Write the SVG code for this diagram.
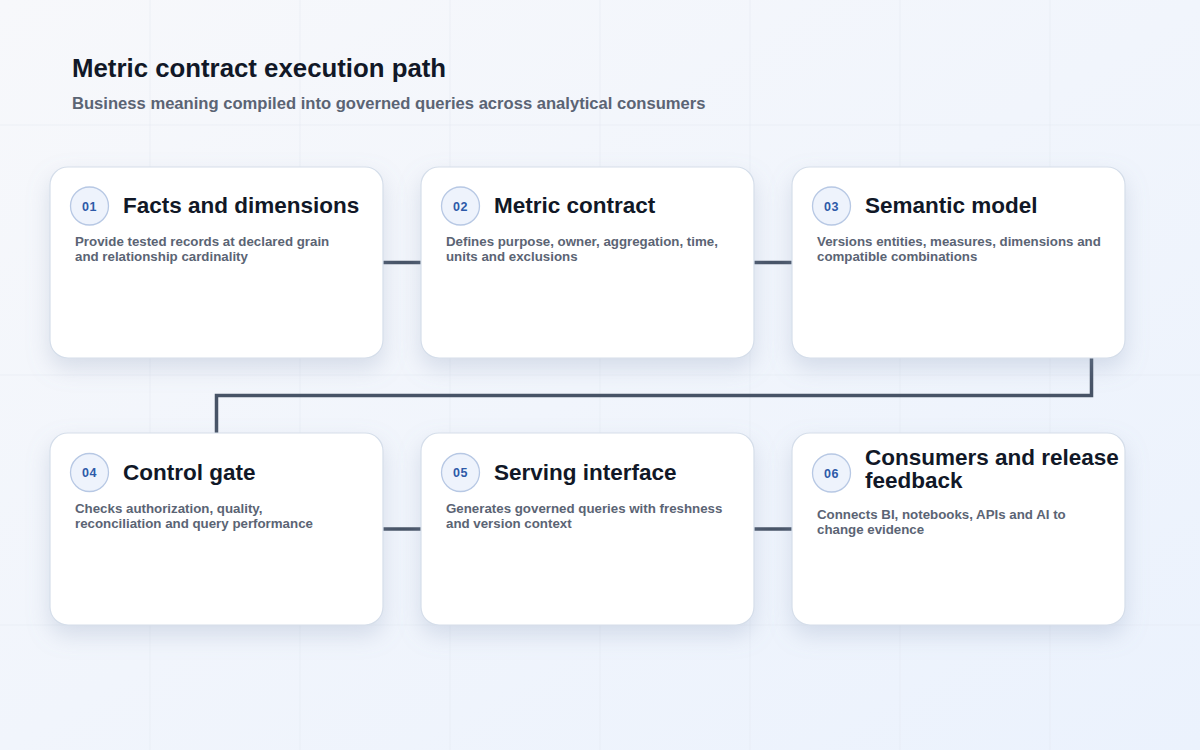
<svg xmlns="http://www.w3.org/2000/svg" width="1200" height="750" viewBox="0 0 1200 750">
<defs>
<linearGradient id="bg" x1="0" y1="0" x2="1" y2="1">
<stop offset="0" stop-color="#f7f8fb"/>
<stop offset="1" stop-color="#ebf2fd"/>
</linearGradient>
<filter id="sh" x="-20%" y="-20%" width="140%" height="150%">
<feDropShadow dx="0" dy="10" stdDeviation="11" flood-color="#8a9ab8" flood-opacity="0.28"/>
</filter>
<style>
.grid line{stroke:#e3e8f0;stroke-width:1;opacity:0.5}
.card{fill:#ffffff;stroke:#d5deea;stroke-width:1.2;filter:url(#sh)}
.badge{fill:#eef3fc;stroke:#b7c8e4;stroke-width:1.3}
.num{font-family:"Liberation Sans",Arial,sans-serif;font-size:12.5px;font-weight:700;fill:#2d5aa8;text-anchor:middle;letter-spacing:0.6px}
.title{font-family:"Liberation Sans",Arial,sans-serif;font-size:22.5px;font-weight:700;fill:#111827}
.desc{font-family:"Liberation Sans",Arial,sans-serif;font-size:13.3px;font-weight:700;fill:#5b6474}
.conn{fill:none;stroke:#475366;stroke-width:3.5;stroke-linejoin:miter}
.h1{font-family:"Liberation Sans",Arial,sans-serif;font-size:25.8px;font-weight:700;fill:#111827}
.h2{font-family:"Liberation Sans",Arial,sans-serif;font-size:16.6px;font-weight:700;fill:#5b6474}
</style>
</defs>
<rect width="1200" height="750" fill="url(#bg)"/>
<g class="grid">
<line x1="150" y1="0" x2="150" y2="750"/>
<line x1="300" y1="0" x2="300" y2="750"/>
<line x1="450" y1="0" x2="450" y2="750"/>
<line x1="600" y1="0" x2="600" y2="750"/>
<line x1="750" y1="0" x2="750" y2="750"/>
<line x1="900" y1="0" x2="900" y2="750"/>
<line x1="1050" y1="0" x2="1050" y2="750"/>
<line x1="0" y1="125" x2="1200" y2="125"/>
<line x1="0" y1="375" x2="1200" y2="375"/>
<line x1="0" y1="625" x2="1200" y2="625"/>
</g>
<g id="header">
<text class="h1" x="72" y="77">Metric contract execution path</text>
<text class="h2" x="72" y="109">Business meaning compiled into governed queries across analytical consumers</text>
</g>
<g id="connectors">
<path class="conn" d="M383 262.5H421"/>
<path class="conn" d="M754 262.5H792"/>
<path class="conn" d="M1091.5 358V395.5H216.5V433"/>
<path class="conn" d="M383 529H421"/>
<path class="conn" d="M754 529H792"/>
</g>
<g id="node-01">
<rect class="card" x="50" y="167" width="333" height="191" rx="18"/>
<circle class="badge" cx="89.5" cy="206" r="19"/>
<text class="num" x="89.5" y="210.5">01</text>
<text class="title" x="123" y="213">Facts and dimensions</text>
<text class="desc" x="75" y="246">Provide tested records at declared grain</text>
<text class="desc" x="75" y="261">and relationship cardinality</text>
</g>
<g id="node-02">
<rect class="card" x="421" y="167" width="333" height="191" rx="18"/>
<circle class="badge" cx="460.5" cy="206" r="19"/>
<text class="num" x="460.5" y="210.5">02</text>
<text class="title" x="494" y="213">Metric contract</text>
<text class="desc" x="446" y="246">Defines purpose, owner, aggregation, time,</text>
<text class="desc" x="446" y="261">units and exclusions</text>
</g>
<g id="node-03">
<rect class="card" x="792" y="167" width="333" height="191" rx="18"/>
<circle class="badge" cx="831.5" cy="206" r="19"/>
<text class="num" x="831.5" y="210.5">03</text>
<text class="title" x="865" y="213">Semantic model</text>
<text class="desc" x="817" y="246">Versions entities, measures, dimensions and</text>
<text class="desc" x="817" y="261">compatible combinations</text>
</g>
<g id="node-04">
<rect class="card" x="50" y="433" width="333" height="192" rx="18"/>
<circle class="badge" cx="89.5" cy="472.5" r="19"/>
<text class="num" x="89.5" y="477">04</text>
<text class="title" x="123" y="479.5">Control gate</text>
<text class="desc" x="75" y="513">Checks authorization, quality,</text>
<text class="desc" x="75" y="528">reconciliation and query performance</text>
</g>
<g id="node-05">
<rect class="card" x="421" y="433" width="333" height="192" rx="18"/>
<circle class="badge" cx="460.5" cy="472.5" r="19"/>
<text class="num" x="460.5" y="477">05</text>
<text class="title" x="494" y="479.5">Serving interface</text>
<text class="desc" x="446" y="513">Generates governed queries with freshness</text>
<text class="desc" x="446" y="528">and version context</text>
</g>
<g id="node-06">
<rect class="card" x="792" y="433" width="333" height="192" rx="18"/>
<circle class="badge" cx="831.5" cy="473" r="19"/>
<text class="num" x="831.5" y="477.5">06</text>
<text class="title" x="865" y="465">Consumers and release</text>
<text class="title" x="865" y="488">feedback</text>
<text class="desc" x="817" y="519">Connects BI, notebooks, APIs and AI to</text>
<text class="desc" x="817" y="534">change evidence</text>
</g>
</svg>
